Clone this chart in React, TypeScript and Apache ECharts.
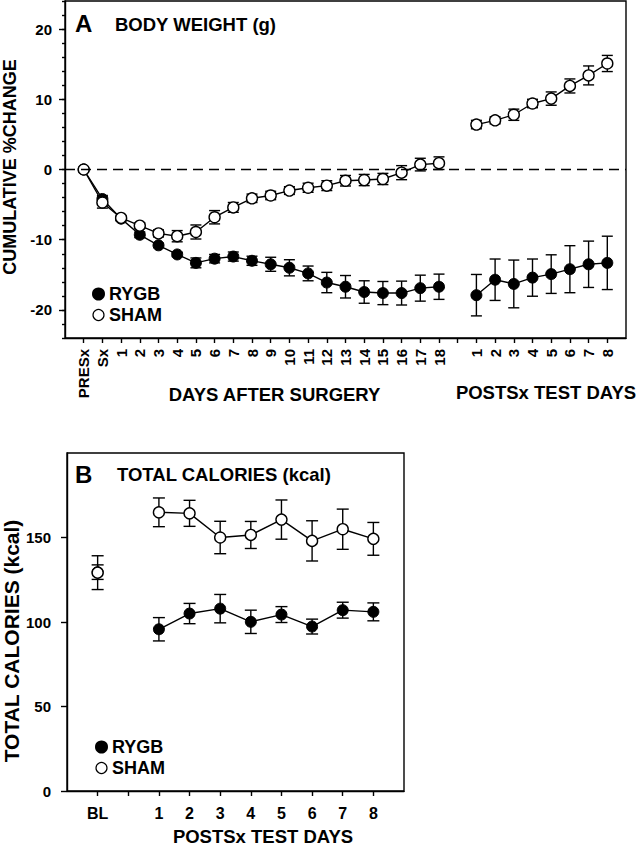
import React, { useEffect, useRef } from "react";
import * as echarts from "echarts";

// ---------- Panel A: body weight (cumulative % change) ----------
const A_LABELS = [
  "PRESx", "Sx", "1", "2", "3", "4", "5", "6", "7", "8", "9", "10", "11", "12", "13", "14", "15", "16", "17", "18",
  "", "1", "2", "3", "4", "5", "6", "7", "8",
];
const A_DAY_POS = [0, 1, 2, 3, 4, 5, 6, 7, 8, 9, 10, 11, 12, 13, 14, 15, 16, 17, 18, 19];
const A_TEST_POS = [21, 22, 23, 24, 25, 26, 27, 28];

const A_RYGB_DAYS = [0, -4.2, -7.0, -9.3, -10.8, -12.1, -13.3, -12.7, -12.4, -13.0, -13.5, -14.0, -14.8, -16.1, -16.7, -17.45, -17.6, -17.6, -16.9, -16.7];
const A_RYGB_DAYS_SEM = [0, 0.5, 0.3, 0.4, 0.3, 0.3, 0.7, 0.6, 0.65, 0.65, 1.0, 1.15, 1.05, 1.45, 1.6, 1.6, 1.65, 1.7, 1.85, 1.8];
const A_SHAM_DAYS = [0, -4.7, -6.9, -8.0, -9.1, -9.5, -8.9, -6.8, -5.4, -4.1, -3.7, -3.0, -2.6, -2.3, -1.6, -1.5, -1.35, -0.45, 0.7, 0.9];
const A_SHAM_DAYS_SEM = [0, 0.8, 0.3, 0.4, 0.5, 0.8, 1.0, 0.95, 0.7, 0.6, 0.6, 0.55, 0.65, 0.7, 0.75, 0.8, 0.8, 1.0, 0.9, 0.9];

const A_RYGB_TEST = [-17.9, -15.7, -16.3, -15.4, -14.9, -14.2, -13.5, -13.3];
const A_RYGB_TEST_SEM = [2.95, 2.95, 3.4, 2.65, 2.75, 3.35, 3.3, 3.8];
const A_SHAM_TEST = [6.4, 7.0, 7.8, 9.4, 10.1, 11.9, 13.4, 15.1];
const A_SHAM_TEST_SEM = [0.6, 0.5, 0.8, 0.6, 0.95, 1.0, 1.35, 1.15];

const A_Y_TICKS = [-20, -10, 0, 10, 20];

// ---------- Panel B: total calories ----------
const B_LABELS = ["BL", "", "1", "2", "3", "4", "5", "6", "7", "8"];
const B_BL_POS = 0;
const B_TEST_POS = [2, 3, 4, 5, 6, 7, 8, 9];

const B_RYGB_BL = 129.5;
const B_RYGB_BL_SEM = 4.3;
const B_SHAM_BL = 129.2;
const B_SHAM_BL_SEM = 10;

const B_RYGB_TEST = [95.7, 105.0, 107.9, 100.1, 104.4, 97.3, 107.0, 106.0];
const B_RYGB_TEST_SEM = [6.9, 6.0, 8.4, 6.9, 4.7, 4.4, 4.7, 5.3];
const B_SHAM_TEST = [164.9, 164.3, 150.0, 151.5, 160.6, 148.0, 154.9, 149.2];
const B_SHAM_TEST_SEM = [8.5, 7.7, 9.6, 8.0, 11.6, 11.9, 11.9, 9.7];

const B_Y_TICKS = [0, 50, 100, 150];

const FONT = '"Liberation Sans", Arial, sans-serif';

const pts = (xs: number[], ys: number[]) => xs.map((x, i) => [x, ys[i]]);
const errs = (xs: number[], ys: number[], se: number[]) =>
  xs.map((x, i) => [x, ys[i] - se[i], ys[i] + se[i]]);

function errorBarSeries(data: number[][], gridIdx: number, capHalf: number) {
  return {
    type: "custom",
    name: "err",
    xAxisIndex: gridIdx,
    yAxisIndex: gridIdx === 0 ? 0 : 2,
    z: 2,
    silent: true,
    encode: { x: 0, y: [1, 2] },
    data,
    renderItem: (params: any, api: any) => {
      const x = api.value(0);
      const lo = api.coord([x, api.value(1)]);
      const hi = api.coord([x, api.value(2)]);
      const st = { stroke: "#000", lineWidth: 1.4, fill: null };
      return {
        type: "group",
        children: [
          { type: "line", shape: { x1: lo[0], y1: lo[1], x2: hi[0], y2: hi[1] }, style: st },
          { type: "line", shape: { x1: lo[0] - capHalf, y1: lo[1], x2: lo[0] + capHalf, y2: lo[1] }, style: st },
          { type: "line", shape: { x1: hi[0] - capHalf, y1: hi[1], x2: hi[0] + capHalf, y2: hi[1] }, style: st },
        ],
      };
    },
  };
}

function lineSeries(name: string, data: number[][], gridIdx: number, filled: boolean, extra: any = {}) {
  return {
    type: "line",
    name,
    xAxisIndex: gridIdx,
    yAxisIndex: gridIdx === 0 ? 0 : 2,
    data,
    z: filled ? 3 : 4,
    symbol: "circle",
    symbolSize: 11,
    showSymbol: true,
    itemStyle: filled
      ? { color: "#000", borderColor: "#000", borderWidth: 1 }
      : { color: "#fff", borderColor: "#000", borderWidth: 1.4 },
    lineStyle: { color: "#000", width: 1.4 },
    emphasis: { disabled: true },
    ...extra,
  };
}

export default function App() {
  const ref = useRef<HTMLDivElement>(null);

  useEffect(() => {
    if (!ref.current) return;
    const chart = echarts.init(ref.current, null, { renderer: "svg" });

    const axisLineStyle = { color: "#000", width: 1.4 };
    const labelStyle = { color: "#000", fontFamily: FONT, fontWeight: "bold" as const };

    const option: any = {
      animation: false,
      backgroundColor: "#fff",
      grid: [
        { left: 65, top: 1, width: 561, height: 337, show: true, borderColor: "#000", borderWidth: 1.4, backgroundColor: "transparent" },
        { left: 67, top: 453, width: 337, height: 338, show: true, borderColor: "#000", borderWidth: 1.4, backgroundColor: "transparent" },
      ],
      xAxis: [
        {
          type: "value",
          gridIndex: 0,
          min: -1,
          max: 29,
          axisLine: { onZero: false, lineStyle: axisLineStyle },
          axisTick: { show: true, length: 5, lineStyle: axisLineStyle, customValues: A_LABELS.map((_, i) => i) },
          axisLabel: {
            ...labelStyle,
            fontSize: 15,
            rotate: 90,
            margin: 11,
            customValues: A_LABELS.map((_, i) => i),
            formatter: (v: number) => A_LABELS[Math.round(v)] ?? "",
          },
          splitLine: { show: false },
        },
        {
          type: "value",
          gridIndex: 1,
          min: -1,
          max: 10,
          axisLine: { onZero: false, lineStyle: axisLineStyle },
          axisTick: { show: true, length: 5, lineStyle: axisLineStyle, customValues: B_LABELS.map((_, i) => i) },
          axisLabel: {
            ...labelStyle,
            fontSize: 16,
            margin: 14,
            customValues: B_LABELS.map((_, i) => i),
            formatter: (v: number) => B_LABELS[Math.round(v)] ?? "",
          },
          splitLine: { show: false },
        },
      ],
      yAxis: [
        {
          type: "value",
          gridIndex: 0,
          min: -24,
          max: 24,
          axisLine: { show: true, onZero: false, lineStyle: axisLineStyle },
          axisTick: { show: true, length: 6, lineStyle: axisLineStyle, customValues: A_Y_TICKS },
          axisLabel: { ...labelStyle, fontSize: 15, margin: 13, customValues: A_Y_TICKS },
          splitLine: { show: false },
        },
        {
          type: "value",
          gridIndex: 0,
          min: -24,
          max: 24,
          interval: 2,
          position: "left",
          axisLine: { show: false, onZero: false },
          axisTick: { show: true, length: 3, lineStyle: axisLineStyle },
          axisLabel: { show: false },
          splitLine: { show: false },
        },
        {
          type: "value",
          gridIndex: 1,
          min: 0,
          max: 200,
          axisLine: { show: true, onZero: false, lineStyle: axisLineStyle },
          axisTick: { show: true, length: 6, lineStyle: axisLineStyle, customValues: B_Y_TICKS },
          axisLabel: { ...labelStyle, fontSize: 15, margin: 16, customValues: B_Y_TICKS },
          splitLine: { show: false },
        },
      ],
      legend: [
        {
          left: 87,
          top: 279,
          orient: "vertical",
          itemGap: 1,
          itemWidth: 11,
          itemHeight: 11,
          selectedMode: false,
          textStyle: { ...labelStyle, fontSize: 18, lineHeight: 20 },
          data: [
            { name: "RYGB", icon: "circle", itemStyle: { color: "#000", borderColor: "#000" } },
            { name: "SHAM", icon: "circle", itemStyle: { color: "#fff", borderColor: "#000", borderWidth: 1.2 } },
          ],
        },
        {
          left: 90,
          top: 732,
          orient: "vertical",
          itemGap: 1,
          itemWidth: 11,
          itemHeight: 11,
          selectedMode: false,
          textStyle: { ...labelStyle, fontSize: 18, lineHeight: 20 },
          data: [
            { name: "RYGB", icon: "circle", itemStyle: { color: "#000", borderColor: "#000" } },
            { name: "SHAM", icon: "circle", itemStyle: { color: "#fff", borderColor: "#000", borderWidth: 1.2 } },
          ],
        },
      ],
      series: [
        // Panel A error bars
        errorBarSeries(errs(A_DAY_POS, A_RYGB_DAYS, A_RYGB_DAYS_SEM), 0, 5.5),
        errorBarSeries(errs(A_DAY_POS, A_SHAM_DAYS, A_SHAM_DAYS_SEM), 0, 5.5),
        errorBarSeries(errs(A_TEST_POS, A_RYGB_TEST, A_RYGB_TEST_SEM), 0, 5.5),
        errorBarSeries(errs(A_TEST_POS, A_SHAM_TEST, A_SHAM_TEST_SEM), 0, 5.5),
        // Panel A lines
        lineSeries("RYGB", pts(A_DAY_POS, A_RYGB_DAYS), 0, true, {
          markLine: {
            silent: true,
            symbol: "none",
            label: { show: false },
            lineStyle: { type: [10, 6], color: "#000", width: 1.4 },
            data: [{ yAxis: 0 }],
          },
        }),
        lineSeries("RYGB", pts(A_TEST_POS, A_RYGB_TEST), 0, true),
        lineSeries("SHAM", pts(A_DAY_POS, A_SHAM_DAYS), 0, false),
        lineSeries("SHAM", pts(A_TEST_POS, A_SHAM_TEST), 0, false),
        // Panel B error bars
        errorBarSeries([[B_BL_POS, B_RYGB_BL - B_RYGB_BL_SEM, B_RYGB_BL + B_RYGB_BL_SEM]], 1, 6),
        errorBarSeries([[B_BL_POS, B_SHAM_BL - B_SHAM_BL_SEM, B_SHAM_BL + B_SHAM_BL_SEM]], 1, 6),
        errorBarSeries(errs(B_TEST_POS, B_RYGB_TEST, B_RYGB_TEST_SEM), 1, 6),
        errorBarSeries(errs(B_TEST_POS, B_SHAM_TEST, B_SHAM_TEST_SEM), 1, 6),
        // Panel B markers / lines
        lineSeries("RYGB", [[B_BL_POS, B_RYGB_BL]], 1, true),
        lineSeries("SHAM", [[B_BL_POS, B_SHAM_BL]], 1, false),
        lineSeries("RYGB", pts(B_TEST_POS, B_RYGB_TEST), 1, true),
        lineSeries("SHAM", pts(B_TEST_POS, B_SHAM_TEST), 1, false),
      ],
      graphic: [
        { type: "text", x: 75, y: 23, style: { text: "A", font: `bold 24px ${FONT}`, fill: "#000", verticalAlign: "middle" } },
        { type: "text", x: 115, y: 24, style: { text: "BODY WEIGHT (g)", font: `bold 18.5px ${FONT}`, fill: "#000", verticalAlign: "middle" } },
        { type: "text", x: 274.5, y: 394, style: { text: "DAYS AFTER SURGERY", font: `bold 18.5px ${FONT}`, fill: "#000", align: "center", verticalAlign: "middle" } },
        { type: "text", x: 546, y: 392, style: { text: "POSTSx TEST DAYS", font: `bold 18.5px ${FONT}`, fill: "#000", align: "center", verticalAlign: "middle" } },
        { type: "text", x: 10, y: 167, rotation: Math.PI / 2, style: { text: "CUMULATIVE %CHANGE", font: `bold 18px ${FONT}`, fill: "#000", align: "center", verticalAlign: "middle" } },
        { type: "text", x: 75, y: 474, style: { text: "B", font: `bold 24px ${FONT}`, fill: "#000", verticalAlign: "middle" } },
        { type: "text", x: 117, y: 474, style: { text: "TOTAL CALORIES (kcal)", font: `bold 18.5px ${FONT}`, fill: "#000", verticalAlign: "middle" } },
        { type: "text", x: 263, y: 836, style: { text: "POSTSx TEST DAYS", font: `bold 18.5px ${FONT}`, fill: "#000", align: "center", verticalAlign: "middle" } },
        { type: "text", x: 11.5, y: 641, rotation: Math.PI / 2, style: { text: "TOTAL CALORIES (kcal)", font: `bold 21px ${FONT}`, fill: "#000", align: "center", verticalAlign: "middle" } },
      ],
    };

    chart.setOption(option);
    return () => chart.dispose();
  }, []);

  return (
    <div
      ref={ref}
      style={{ position: "fixed", left: 0, top: 0, width: 637, height: 848, background: "#fff" }}
    />
  );
}
